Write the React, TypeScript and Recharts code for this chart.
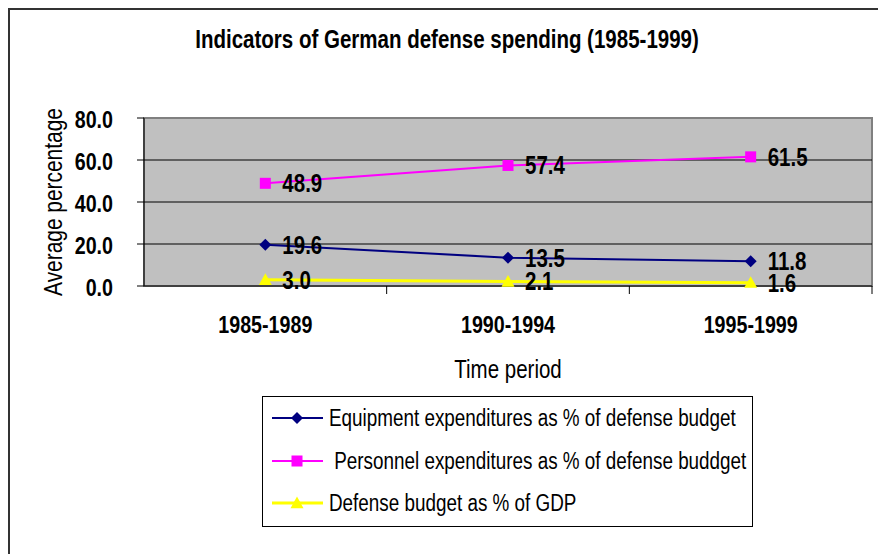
import React from 'react';
import { LineChart, Line, XAxis, YAxis, CartesianGrid, ReferenceLine, ReferenceArea, LabelList, Label } from 'recharts';

const periods = ['1985-1989', '1990-1994', '1995-1999'];
const equipment = [19.6, 13.5, 11.8];
const personnel = [48.9, 57.4, 61.5];
const gdp = [3.0, 2.1, 1.6];
const yTicks = [0, 20, 40, 60, 80];
const gridValues = [20, 40, 60];

const seriesNames = [
  'Equipment expenditures as % of defense budget',
  ' Personnel expenditures as % of defense buddget',
  'Defense budget as % of GDP',
];

const data = periods.map((p, i) => ({
  period: p,
  equipment: equipment[i],
  personnel: personnel[i],
  gdp: gdp[i],
}));

const FONT = "'Liberation Sans', Arial, sans-serif";
const SX = 0.82; // Arial Narrow ≈ Arial condensed horizontally
const NAVY = '#000080';
const MAGENTA = '#FF00FF';
const YELLOW = '#FFFF00';

const NText = ({ x, y, anchor = 'start', size = 24, weight = 'normal', dy = '0', children }: any) => (
  <text
    transform={`translate(${x},${y}) scale(${SX},1)`}
    x={0}
    y={0}
    dy={dy}
    textAnchor={anchor}
    fontSize={size}
    fontWeight={weight}
    fontFamily={FONT}
    fill="#000"
  >
    {children}
  </text>
);

const Diamond = (props: any) => {
  const { cx, cy, fill } = props;
  if (cx == null || cy == null) return null;
  const r = 6;
  return <path d={`M${cx},${cy - r}L${cx + r},${cy}L${cx},${cy + r}L${cx - r},${cy}Z`} fill={fill} />;
};
const Square = (props: any) => {
  const { cx, cy, fill } = props;
  if (cx == null || cy == null) return null;
  const r = 5.5;
  return <rect x={cx - r} y={cy - r} width={2 * r} height={2 * r} fill={fill} />;
};
const Triangle = (props: any) => {
  const { cx, cy, fill } = props;
  if (cx == null || cy == null) return null;
  const r = 6.5;
  return <path d={`M${cx},${cy - r}L${cx + r},${cy + r * 0.8}L${cx - r},${cy + r * 0.8}Z`} fill={fill} />;
};

const XTick = (props: any) => {
  const { x, y, payload, index, visibleTicksCount, width } = props;
  const half = payload && payload.offset ? payload.offset : width / visibleTicksCount / 2;
  return (
    <g>
      {index > 0 && <line x1={x - half} x2={x - half} y1={y} y2={y + 8} stroke="#000" strokeWidth={1} />}
      {index === visibleTicksCount - 1 && (
        <line x1={x + half} x2={x + half} y1={y} y2={y + 8} stroke="#000" strokeWidth={1} />
      )}
      <NText x={x} y={y + 47} anchor="middle" size={24} weight="bold">
        {payload.value}
      </NText>
    </g>
  );
};

const fmt = (v: any) => Number(v).toFixed(1);

const YTick = (props: any) => {
  const { x, y, payload } = props;
  return (
    <NText x={x} y={y + 1.5} anchor="end" size={24} weight="bold" dy="0.355em">
      {fmt(payload.value)}
    </NText>
  );
};

const YLabel = (props: any) => {
  const { viewBox } = props;
  const cx = viewBox.x + 53;
  const cy = viewBox.y + viewBox.height / 2;
  return (
    <text
      transform={`translate(${cx},${cy}) rotate(-90) scale(${SX},1)`}
      x={0}
      y={0}
      dy="0.355em"
      textAnchor="middle"
      fontSize={25.5}
      fontFamily={FONT}
      fill="#000"
    >
      Average percentage
    </text>
  );
};

const XLabel = (props: any) => {
  const { viewBox } = props;
  const cx = viewBox.x + viewBox.width / 2;
  return (
    <NText x={cx} y={viewBox.y + 92} anchor="middle" size={25}>
      Time period
    </NText>
  );
};

const DataLabel = (props: any) => {
  const vb = props.viewBox || props;
  const x = (vb.x ?? props.x) + (vb.width || 0) + 17;
  const y = (vb.y ?? props.y) + (vb.height || 0) / 2;
  return (
    <NText x={x} y={y} anchor="start" size={25} weight="bold" dy="0.355em">
      {fmt(props.value)}
    </NText>
  );
};

const legendItems = [
  { name: seriesNames[0], color: NAVY, shape: 'diamond' },
  { name: seriesNames[1], color: MAGENTA, shape: 'square' },
  { name: seriesNames[2], color: YELLOW, shape: 'triangle' },
];

const LegendMarker = ({ color, shape }: { color: string; shape: string }) => (
  <svg width={54} height={20} style={{ display: 'block' }}>
    <line x1={1} x2={52} y1={10} y2={10} stroke={color} strokeWidth={shape === 'triangle' ? 3 : 2} />
    {shape === 'diamond' && <Diamond cx={26} cy={10} fill={color} />}
    {shape === 'square' && <Square cx={26} cy={10} fill={color} />}
    {shape === 'triangle' && <Triangle cx={26} cy={10} fill={color} />}
  </svg>
);

export default function App() {
  return (
    <div style={{ position: 'absolute', left: 0, top: 0, width: 878, height: 554, background: '#fff', overflow: 'hidden', fontFamily: FONT }}>
      <div style={{ position: 'absolute', left: 8, top: 8, width: 870, height: 546, borderLeft: '2px solid #333', borderTop: '2px solid #333', boxSizing: 'border-box' }} />
      <div style={{ position: 'absolute', left: 0, width: 894, top: 24, textAlign: 'center', lineHeight: '30px' }}>
        <span style={{ display: 'inline-block', transform: `scaleX(${SX})`, transformOrigin: 'center', fontSize: 25, fontWeight: 'bold', color: '#000', whiteSpace: 'pre' }}>
          Indicators of German defense spending (1985-1999)
        </span>
      </div>
      <div style={{ position: 'absolute', left: 0, top: 0 }}>
        <LineChart width={878} height={554} data={data} margin={{ top: 118, right: 6, left: 0, bottom: 168 }}>
          <CartesianGrid horizontal={false} vertical={false} fill="#C0C0C0" />
          <ReferenceArea y1={0} y2={80} fill="none" stroke="#808080" strokeWidth={2} ifOverflow="visible" />
          {gridValues.map((v) => (
            <ReferenceLine key={v} y={v} stroke="#000" strokeWidth={1} />
          ))}
          <XAxis
            dataKey="period"
            scale="band"
            height={100}
            tickSize={0}
            tickMargin={0}
            tickLine={false}
            axisLine={{ stroke: '#000', strokeWidth: 1 }}
            tick={<XTick />}
            interval={0}
          >
            <Label content={<XLabel />} />
          </XAxis>
          <YAxis
            width={144}
            domain={[0, 80]}
            ticks={yTicks}
            tickSize={7}
            tickMargin={24}
            axisLine={{ stroke: '#000', strokeWidth: 1 }}
            tickLine={{ stroke: '#000', strokeWidth: 1 }}
            tick={<YTick />}
          >
            <Label content={<YLabel />} />
          </YAxis>
          <Line dataKey="equipment" name={seriesNames[0]} stroke={NAVY} strokeWidth={2} dot={<Diamond fill={NAVY} />} isAnimationActive={false}>
            <LabelList dataKey="equipment" content={<DataLabel />} />
          </Line>
          <Line dataKey="personnel" name={seriesNames[1]} stroke={MAGENTA} strokeWidth={2} dot={<Square fill={MAGENTA} />} isAnimationActive={false}>
            <LabelList dataKey="personnel" content={<DataLabel />} />
          </Line>
          <Line dataKey="gdp" name={seriesNames[2]} stroke={YELLOW} strokeWidth={3} dot={<Triangle fill={YELLOW} />} isAnimationActive={false}>
            <LabelList dataKey="gdp" content={<DataLabel />} />
          </Line>
        </LineChart>
      </div>
      <div style={{ position: 'absolute', left: 262, top: 396, width: 491, height: 131, border: '1px solid #000', boxSizing: 'border-box', background: '#fff' }}>
        {legendItems.map((item, i) => (
          <div key={i} style={{ position: 'absolute', left: 8, top: 11 + i * 42.5, height: 20, display: 'flex', alignItems: 'center', whiteSpace: 'pre' }}>
            <LegendMarker color={item.color} shape={item.shape} />
            <span style={{ display: 'inline-block', marginLeft: 4, fontSize: 23, color: '#000', lineHeight: '20px', transform: `scaleX(${SX})`, transformOrigin: 'left center' }}>{item.name}</span>
          </div>
        ))}
      </div>
    </div>
  );
}
